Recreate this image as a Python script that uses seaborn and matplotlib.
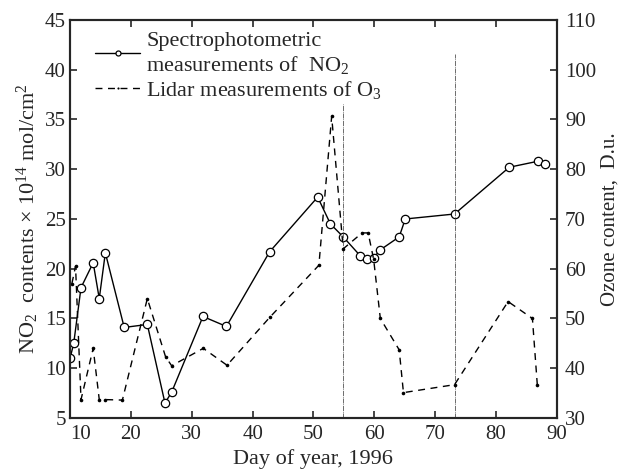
import matplotlib
matplotlib.use('Agg')
import matplotlib.pyplot as plt
import seaborn as sns
import numpy as np

# NO2 spectrophotometric (left axis) and O3 lidar (right axis), early 1996

no2_days = [10.0, 10.6, 11.8, 13.8, 14.8, 15.8, 18.9, 22.7, 25.6, 26.7, 31.85, 35.7,
            42.8, 50.7, 52.8, 54.9, 57.7, 58.8, 59.9, 61.0, 64.1, 65.1, 73.2, 82.2, 86.9, 88.0]
no2_vals = [11.0, 12.5, 18.1, 20.6, 17.0, 21.6, 14.1, 14.4, 6.5, 7.6, 15.2, 14.2,
            21.7, 27.2, 24.5, 23.2, 21.3, 21.0, 21.1, 21.9, 23.2, 25.0, 25.5, 30.2, 30.8, 30.5]

o3_days = [10.3, 10.9, 11.8, 13.8, 14.8, 15.8, 18.6, 22.7, 25.7, 26.7, 31.9, 35.8,
           42.8, 50.9, 53.0, 54.9, 58.0, 59.0, 59.9, 61.0, 64.1, 64.8, 73.2, 82.0, 86.0, 86.8]
o3_vals = [57.0, 60.5, 33.7, 44.0, 33.7, 33.7, 33.6, 54.0, 42.3, 40.5, 44.0, 40.6,
           50.2, 60.7, 90.6, 64.0, 67.2, 67.2, 61.9, 50.0, 43.7, 35.1, 36.7, 53.4, 50.0, 36.7]

# thin vertical markers (day, top in NO2 units)
event_days = [54.8, 73.2]
event_tops = [36.6, 41.6]

left_ticks = [5, 10, 15, 20, 25, 30, 35, 40, 45]
right_ticks = [30, 40, 50, 60, 70, 80, 90, 100, 110]
x_ticks = [10, 20, 30, 40, 50, 60, 70, 80, 90]

sns.set_style('ticks')
plt.rcParams['font.family'] = ['Liberation Serif', 'DejaVu Serif']
plt.rcParams['mathtext.fontset'] = 'custom'
plt.rcParams['mathtext.rm'] = 'Liberation Serif'
plt.rcParams['mathtext.it'] = 'Liberation Serif:italic'
plt.rcParams['font.size'] = 15

fig = plt.figure(figsize=(6.2, 4.75), dpi=100)
ax = fig.add_axes([0.113, 0.12, 0.785, 0.838])
ax2 = ax.twinx()

sns.lineplot(x=no2_days, y=no2_vals, ax=ax, color='black', linewidth=1.0, estimator=None,
             marker='o', markersize=6, markerfacecolor='white', markeredgecolor='black',
             markeredgewidth=0.9, label='Spectrophotometric\nmeasurements of  NO$_2$', legend=False)
sns.lineplot(x=o3_days, y=o3_vals, ax=ax2, color='black', linewidth=1.0, estimator=None,
             linestyle=(0, (5, 4)), marker='o', markersize=2.6, markeredgewidth=0,
             label='Lidar measurements of O$_3$', legend=False)

ax.vlines(event_days, 5, event_tops, color='#555555', linewidth=0.6, linestyles=(0, (6, 1, 1, 1)))

ax.set_xlim(10, 90)
ax.set_ylim(5, 45)
ax2.set_ylim(30, 110)
ax.set_xticks(x_ticks)
ax.set_yticks(left_ticks)
ax2.set_yticks(right_ticks)

ax.tick_params(axis='both', direction='in', length=5, width=1.2, labelsize=15, top=True)
ax.tick_params(axis='x', pad=5)
ax.tick_params(axis='y', pad=3)
ax2.tick_params(axis='y', direction='in', length=5, width=1.2, labelsize=15, pad=6)
for a in (ax, ax2):
    for s in a.spines.values():
        s.set_linewidth(1.5)
        s.set_visible(True)
ax.get_xticklabels()[0].set_ha('left')

ax.set_xlabel('Day of year, 1996', fontsize=16, labelpad=4)
ax.set_ylabel('NO$_2$  contents × 10$^{14}$ mol/cm$^2$', fontsize=16, labelpad=3)
ax2.set_ylabel('Ozone content,  D.u.', fontsize=15, labelpad=3)

h1, l1 = ax.get_legend_handles_labels()
h2, l2 = ax2.get_legend_handles_labels()
leg = ax2.legend(h1 + h2, l1 + l2, loc='upper left', bbox_to_anchor=(0.02, 1.01), frameon=False,
                 fontsize=16, handlelength=2.0, handletextpad=0.3, labelspacing=0.15,
                 borderaxespad=0.3, markerscale=0.6)

fig.savefig('out.png', dpi=100)
